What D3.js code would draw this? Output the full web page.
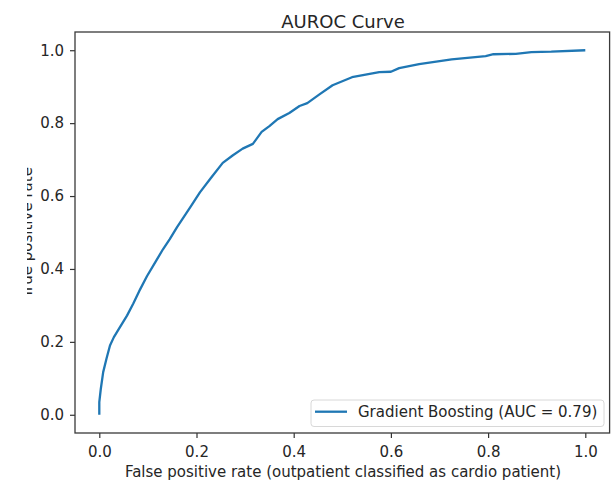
<html lang="en">
<head>
  <meta charset="UTF-8">
  <title>AUROC Curve</title>
  <script src="https://cdn.jsdelivr.net/npm/d3@7"></script>
  <style>
    body { margin: 0; background: #fff; }
    text { font-family: "DejaVu Sans", sans-serif; fill: #262626; }
  </style>
</head>
<body>
  <svg width="612" height="481"></svg>

  <script>
    // ROC curve points
    const fpr = [0, 0, 0.003, 0.008, 0.015, 0.022, 0.03, 0.04, 0.057, 0.07, 0.084, 0.098, 0.115, 0.131, 0.145, 0.16,
      0.175, 0.19, 0.207, 0.23, 0.254, 0.275, 0.295, 0.316, 0.334, 0.35, 0.367, 0.391, 0.412, 0.428, 0.453, 0.48,
      0.52, 0.576, 0.60, 0.617, 0.658, 0.725, 0.795, 0.811, 0.857, 0.889, 0.93, 1.0];
    const tpr = [0, 0.035, 0.07, 0.117, 0.155, 0.19, 0.213, 0.235, 0.272, 0.305, 0.344, 0.38, 0.418, 0.454, 0.482, 0.515,
      0.545, 0.575, 0.61, 0.65, 0.691, 0.712, 0.73, 0.743, 0.776, 0.792, 0.811, 0.828, 0.847, 0.855, 0.879, 0.904,
      0.926, 0.94, 0.941, 0.951, 0.962, 0.975, 0.984, 0.989, 0.99, 0.995, 0.996, 1.0];
    const ticks = [0, 0.2, 0.4, 0.6, 0.8, 1.0];
    const legendLabel = "Gradient Boosting (AUC = 0.79)";

    const svg = d3.select("svg");
    const W = 612, H = 481;
    const margin = { top: 32, right: 2.4, bottom: 48, left: 75 };

    const x = d3.scaleLinear().domain([-0.05, 1.05]).range([margin.left, W - margin.right]);
    const y = d3.scaleLinear().domain([-0.05, 1.05]).range([H - margin.bottom, margin.top]);

    // axes
    const xAxis = svg.append("g")
      .attr("transform", `translate(0,${H - margin.bottom})`)
      .call(d3.axisBottom(x).tickValues(ticks).tickFormat(d3.format(".1f")).tickSize(5).tickPadding(8));
    const yAxis = svg.append("g")
      .attr("transform", `translate(${margin.left},0)`)
      .call(d3.axisLeft(y).tickValues(ticks).tickFormat(d3.format(".1f")).tickSize(5).tickPadding(6));
    [xAxis, yAxis].forEach(g => {
      g.select(".domain").remove();
      g.selectAll("text").style("font-size", "15px").attr("fill", "#333");
      g.selectAll("line").attr("stroke", "#333").attr("stroke-width", 1.2);
    });

    // frame
    svg.append("rect")
      .attr("x", margin.left).attr("y", margin.top)
      .attr("width", W - margin.left - margin.right)
      .attr("height", H - margin.top - margin.bottom)
      .attr("fill", "none").attr("stroke", "#3a3a3a").attr("stroke-width", 1.3);

    // curve
    const pts = fpr.map((f, i) => [f, tpr[i]]);
    svg.append("path")
      .datum(pts)
      .attr("d", d3.line().x(d => x(d[0])).y(d => y(d[1])))
      .attr("fill", "none")
      .attr("stroke", "#1f77b4")
      .attr("stroke-width", 2.3)
      .attr("stroke-linejoin", "round");

    // legend
    const lg = svg.append("g").attr("transform", "translate(311,400)");
    lg.append("rect").attr("width", 293).attr("height", 26.5).attr("rx", 3)
      .attr("fill", "#fff").attr("stroke", "#d8d8d8");
    lg.append("line").attr("x1", 4).attr("x2", 36).attr("y1", 11.7).attr("y2", 11.7)
      .attr("stroke", "#1f77b4").attr("stroke-width", 2.3);
    lg.append("text").attr("x", 47).attr("y", 17).style("font-size", "15px").text(legendLabel);

    // title and labels
    svg.append("text").attr("x", 343).attr("y", 28).attr("text-anchor", "middle")
      .style("font-size", "18px").text("AUROC Curve");
    svg.append("text").attr("x", 343).attr("y", 477).attr("text-anchor", "middle")
      .style("font-size", "15px").text("False positive rate (outpatient classified as cardio patient)");

    // y label is cut off at the left edge in the screenshot
    svg.append("clipPath").attr("id", "ylab").append("rect")
      .attr("x", 27).attr("y", 0).attr("width", 20).attr("height", H);
    svg.append("g").attr("clip-path", "url(#ylab)")
      .append("text")
      .attr("transform", `translate(32,${y(0.5)}) rotate(-90)`)
      .attr("text-anchor", "middle").style("font-size", "15px").text("True positive rate");
  </script>
</body>
</html>
